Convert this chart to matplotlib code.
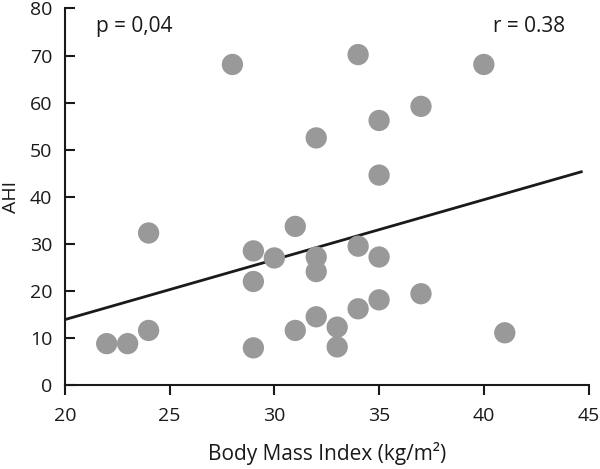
import matplotlib
matplotlib.use('Agg')
import matplotlib.pyplot as plt
import numpy as np

plt.rcParams['font.family'] = ['Open Sans', 'DejaVu Sans']

bmi = [22, 23, 24, 24, 28, 29, 29, 29, 30, 31, 31, 32, 32, 32, 32,
       33, 33, 34, 34, 34, 35, 35, 35, 35, 37, 37, 40, 41]
ahi = [8.8, 8.8, 11.6, 32.3, 68.1, 28.5, 22.0, 7.9, 27.0, 33.7, 11.6, 52.5, 27.2, 24.1, 14.5,
       12.3, 8.1, 70.2, 29.5, 16.2, 56.2, 44.6, 27.2, 18.1, 59.2, 19.4, 68.1, 11.1]

fit_x = [20, 44.65]
fit_y = [13.9, 45.3]

fig = plt.figure(figsize=(6, 4.69), dpi=100)
ax = fig.add_axes([0.108, 0.179, 0.873, 0.803])

ax.scatter(bmi, ahi, s=235, color='#999999', edgecolors='none', zorder=3)
ax.plot(fit_x, fit_y, color='#1a1a1a', lw=2.0, zorder=2)

ax.set_xlim(20, 45)
ax.set_ylim(0, 80)
ax.set_xticks(np.arange(20, 46, 5))
ax.set_yticks(np.arange(0, 81, 10))
for s in ['top', 'right']:
    ax.spines[s].set_visible(False)
for s in ['left', 'bottom']:
    ax.spines[s].set_linewidth(1.5)
    ax.spines[s].set_color('#1a1a1a')
ax.spines['left'].set_bounds(0, 80)
ax.tick_params(axis='x', direction='out', length=7, width=1.5, colors='#1a1a1a', labelsize=14, pad=9)
ax.tick_params(axis='y', direction='in', length=7, width=1.5, colors='#1a1a1a', labelsize=14, pad=9)

ax.set_xlabel('Body Mass Index (kg/m²)', fontsize=15, color='#1a1a1a', labelpad=12)
ax.set_ylabel('AHI', fontsize=14, color='#1a1a1a')
ax.yaxis.set_label_coords(0.033, 0.58, transform=fig.transFigure)

ax.text(0.06, 0.952, 'p = 0,04', transform=ax.transAxes, fontsize=15, va='center', color='#1a1a1a')
ax.text(0.955, 0.952, 'r = 0.38', transform=ax.transAxes, fontsize=15, va='center', ha='right', color='#1a1a1a')

fig.savefig('out.png', dpi=100)
